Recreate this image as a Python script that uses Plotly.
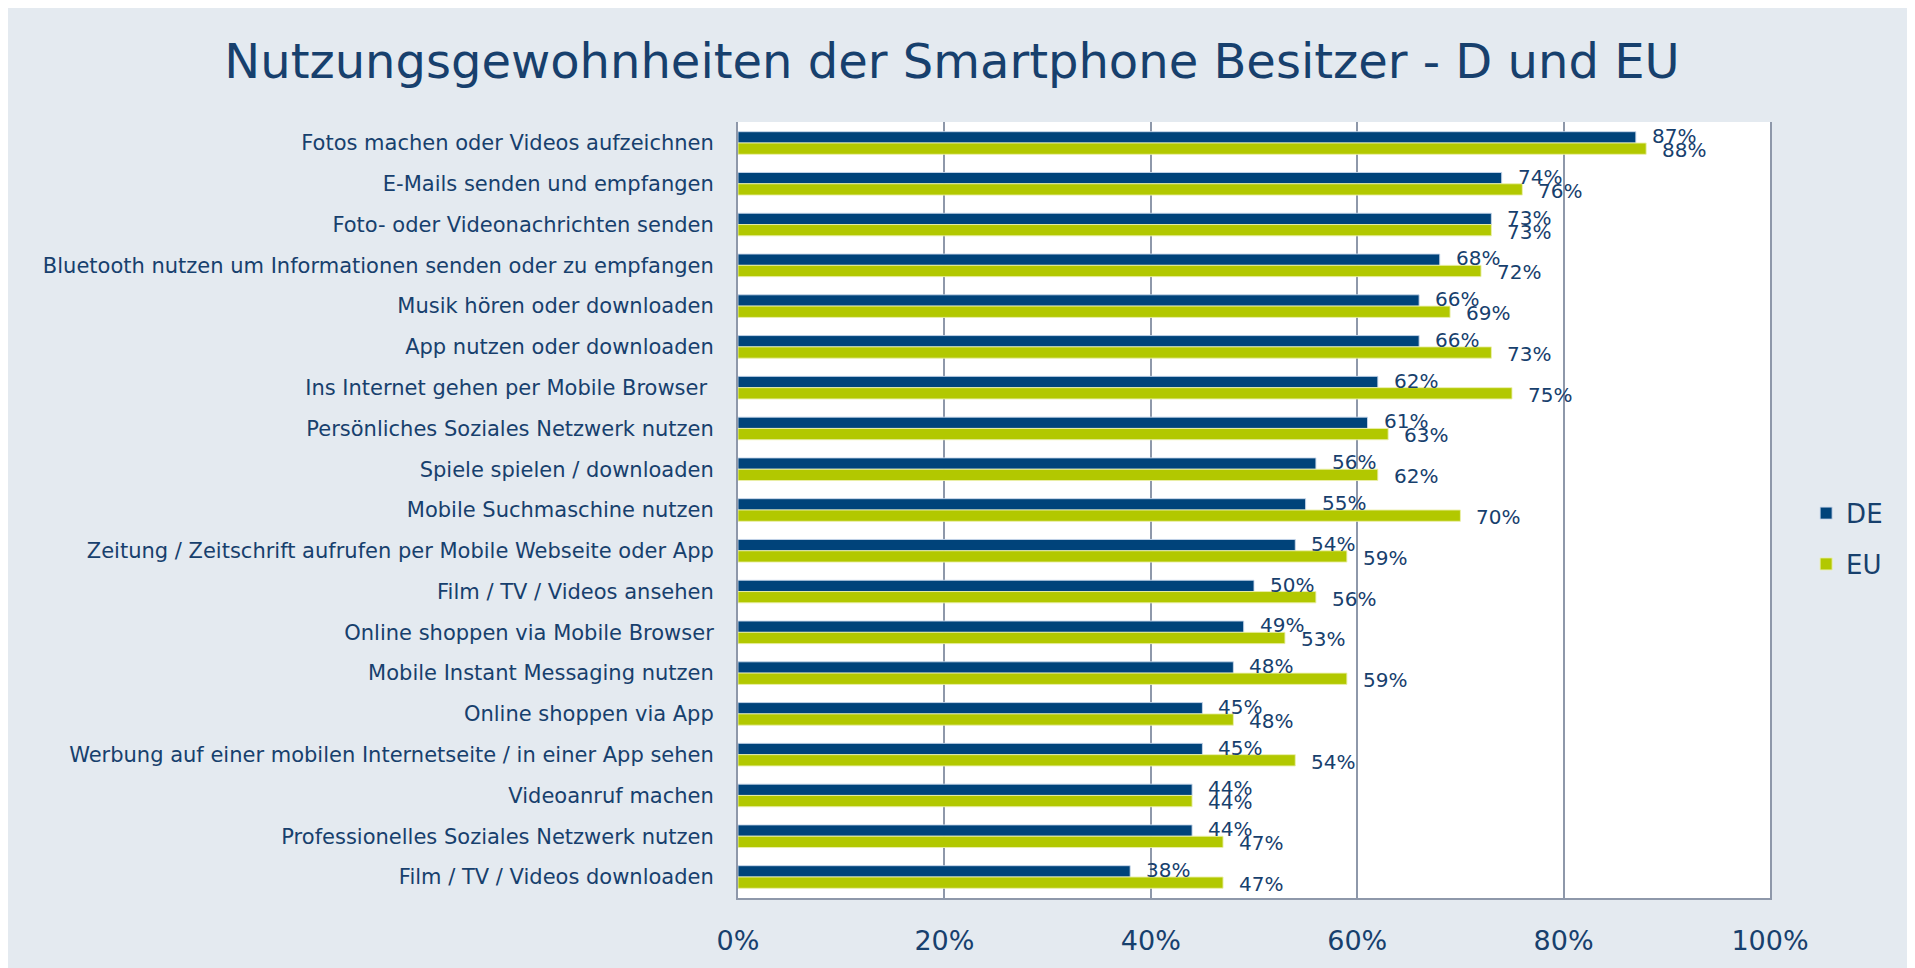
import plotly.graph_objects as go

categories = [
    "Fotos machen oder Videos aufzeichnen",
    "E-Mails senden und empfangen",
    "Foto- oder Videonachrichten senden",
    "Bluetooth nutzen um Informationen senden oder zu empfangen",
    "Musik hören oder downloaden",
    "App nutzen oder downloaden",
    "Ins Internet gehen per Mobile Browser\u00a0",
    "Persönliches Soziales Netzwerk nutzen",
    "Spiele spielen / downloaden",
    "Mobile Suchmaschine nutzen",
    "Zeitung / Zeitschrift aufrufen per Mobile Webseite oder App",
    "Film / TV / Videos ansehen",
    "Online shoppen via Mobile Browser",
    "Mobile Instant Messaging nutzen",
    "Online shoppen via App",
    "Werbung auf einer mobilen Internetseite / in einer App sehen",
    "Videoanruf machen",
    "Professionelles Soziales Netzwerk nutzen",
    "Film / TV / Videos downloaden",
]
de_values = [87, 74, 73, 68, 66, 66, 62, 61, 56, 55, 54, 50, 49, 48, 45, 45, 44, 44, 38]
eu_values = [88, 76, 73, 72, 69, 73, 75, 63, 62, 70, 59, 56, 53, 59, 48, 54, 44, 47, 47]
tick_vals = [0, 20, 40, 60, 80, 100]
tick_text = ["0%", "20%", "40%", "60%", "80%", "100%"]

TEXT = "#17406D"
DE_COLOR = "#00437A"
EU_COLOR = "#B2C800"
BG = "#E4EAF0"
GRID = "#8E98AA"
FONT = "DejaVu Sans"

fig = go.Figure()
fig.add_trace(go.Bar(
    name="DE", y=categories, x=de_values, orientation="h",
    marker=dict(color=DE_COLOR, line=dict(color="rgba(200,215,235,0.9)", width=1)),
    legendgroup="de",
))
fig.add_trace(go.Bar(
    name="EU", y=categories, x=eu_values, orientation="h",
    marker=dict(color=EU_COLOR, line=dict(color="rgba(235,240,170,0.9)", width=1)),
    legendgroup="eu",
))

annotations = []
for cat, v in zip(categories, de_values):
    annotations.append(dict(x=v, y=cat, xref="x", yref="y", text=f"{v}%",
                            showarrow=False, xanchor="left", yanchor="middle",
                            xshift=14, yshift=7,
                            font=dict(family=FONT, size=20, color=TEXT)))
for cat, v in zip(categories, eu_values):
    annotations.append(dict(x=v, y=cat, xref="x", yref="y", text=f"{v}%",
                            showarrow=False, xanchor="left", yanchor="middle",
                            xshift=14, yshift=-7,
                            font=dict(family=FONT, size=20, color=TEXT)))

fig.update_layout(
    width=1907, height=960,
    margin=dict(l=730, r=145, t=114, b=70),
    paper_bgcolor=BG,
    plot_bgcolor="white",
    font=dict(family=FONT, color=TEXT),
    title=dict(text="Nutzungsgewohnheiten der Smartphone Besitzer - D und EU",
               x=0.495, xanchor="center", y=0.945, yanchor="middle",
               font=dict(family=FONT, size=48, color=TEXT)),
    barmode="group",
    bargap=0.446,
    bargroupgap=0,
    showlegend=True,
    legend=dict(x=1.035, xanchor="left", y=0.463, yanchor="middle",
                font=dict(family=FONT, size=26, color=TEXT),
                bgcolor="rgba(0,0,0,0)", tracegroupgap=14,
                itemclick=False),
    annotations=annotations,
)
fig.update_xaxes(
    range=[0, 100], tickvals=tick_vals, ticktext=tick_text,
    showgrid=True, gridcolor=GRID, gridwidth=1.5,
    showline=True, linecolor=GRID, linewidth=2,
    zeroline=False, ticks="", ticklabelstandoff=18,
    tickfont=dict(family=FONT, size=27, color=TEXT),
    fixedrange=True,
)
fig.update_yaxes(
    autorange="reversed", showgrid=False,
    showline=True, linecolor=GRID, linewidth=2, mirror=True,
    ticks="", ticklabelstandoff=18,
    tickfont=dict(family=FONT, size=21, color=TEXT),
    fixedrange=True,
)

fig.write_html("out.html")
